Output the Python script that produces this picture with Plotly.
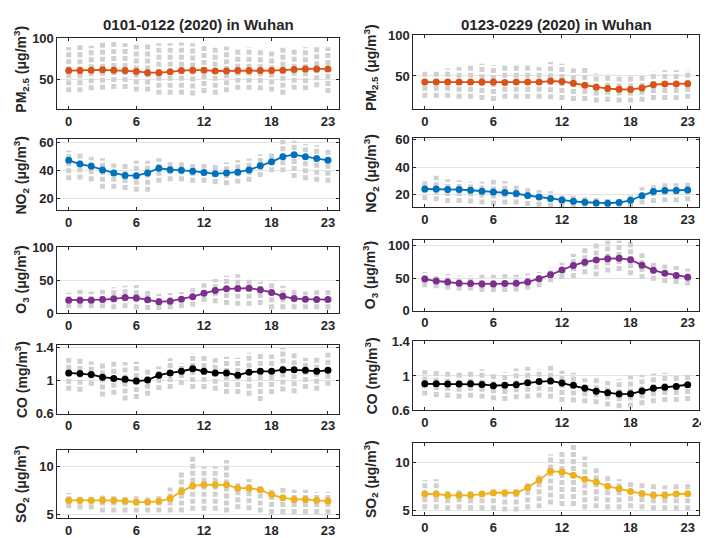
import plotly.graph_objects as go

# ---------------- data ----------------
hours = list(range(24))

# Period 1: 0101-0122 ; Period 2: 0123-0229
pm25_p1 = [60.5,60.5,61,61.5,61,60.5,59.5,58,58,59,60.5,61,61,60,60,60.5,60.5,60.5,60.5,61,62,62.5,62.5,62.5]
pm25_p1_lo = [34,34,36.5,37,38,38,35,35,31,31,31,30,33,31,34,37,37,36.5,35,31,37,36.5,40,33]
pm25_p1_hi = [89,92,91,95,96,94,92,95,94,94,95,94,92,89,90,88,89,86,85,89,88,89,89,89]
pm25_p2 = [42.5,42.5,42.5,42.5,42.5,42.5,42.5,42,42.5,42.5,42.5,43.7,43.3,40.9,38.5,36.1,34.5,33.7,33.3,35.3,39.3,40.1,40.1,40.5]
pm25_p2_lo = [23.4,23.4,23.4,22,22,20.6,19.4,22,22,22,22,21.4,20.6,19.4,19.4,17.5,18.3,17.5,17.5,18.3,20.6,20.6,20.6,22]
pm25_p2_hi = [57,57,59,61,63,65,63,64,64,63,61,67,65,59,60,53,53,49,51,53,55,57,57,57]

no2_p1 = [47,44.3,42.7,40.1,38,36.2,36,38,41.3,40.3,39.9,39.2,38.3,37.3,38,38.5,40.1,43.1,45.9,49.6,51,49.6,48.2,47]
no2_p1_lo = [32.7,33.2,32,26.7,26.7,25.8,24.6,24.6,30.9,32,32,30.9,30.9,30,29.2,30.4,31.6,35,38.5,38.5,34.3,32.7,31.6,30.9]
no2_p1_hi = [54,51.7,49.6,48.4,44.7,44.7,46.6,46.6,48.4,47,46,44.3,44.3,44.3,45.4,47,48.2,51.2,53,61.6,61,58.6,57.7,55.8]
no2_p2 = [24.2,24.2,23.8,23.8,23.3,22.6,22.1,21.6,20.9,19.5,18.4,17.4,16.2,15.3,14.6,14.1,13.9,14.4,16,19.3,22.4,23.1,23.1,23.5]
no2_p2_lo = [16,15.3,14.1,14.1,13.6,12.9,12.2,12.9,12.9,11.8,11.3,10.8,10.8,10.8,10.8,10.8,10.8,10.8,10.8,12.9,14.1,14.6,14.6,15.3]
no2_p2_hi = [30,33.9,31.3,30.6,29.4,29.4,31,30,27,24.7,23.5,22.6,20,19.3,18.4,17.6,16.9,16.9,20,25.4,27,28.7,29.4,28.7]

o3_p1 = [19.8,19.8,19.8,20.8,21.8,23.8,23.3,20.3,17.3,18.3,21.3,25.2,30.2,34.7,37.1,37.6,38.1,35.6,31.7,25.7,22.3,21.3,20.8,20.8]
o3_p1_lo = [7.4,7.4,7.4,7.4,6,7.4,6,5,5,6,7.4,10,17.3,15,12.4,11.4,11.4,12.4,6,6,6,6,6,6]
o3_p1_hi = [31,35.6,33.2,35.6,39.6,42,43,37,29.7,30.7,32.2,38,45.5,52,57,59.4,54.5,48,46,42,37,33.2,35.6,36]
o3_p2 = [48.5,45.5,44,42,41.5,41,41,41.5,42,44,49,55,62.5,69.5,74.5,78,80,80.5,78.5,70,62,57.5,54,51.5]
o3_p2_lo = [36,34.5,32.5,31,31,28.5,28.5,28.5,29.5,32.5,36,43.5,48.5,50,56,52.5,58.5,61,54.5,48.5,46,42.5,41,38.5]
o3_p2_hi = [59.5,56,56,53.5,53.5,55,55,56,55,57,59.5,66,73.5,87.5,97.5,103.5,108,108,106,88.5,73.5,71,68.5,64.5]

co_p1 = [1.09,1.082,1.07,1.039,1.023,1.012,0.992,1.004,1.062,1.09,1.109,1.14,1.109,1.09,1.09,1.062,1.098,1.109,1.109,1.129,1.129,1.121,1.109,1.121]
co_p1_lo = [0.875,0.863,0.934,0.805,0.828,0.758,0.777,0.816,0.883,0.895,0.945,0.895,0.895,0.875,0.836,0.836,0.816,0.75,0.836,0.867,0.844,0.895,0.875,0.934]
co_p1_hi = [1.27,1.266,1.227,1.207,1.227,1.219,1.227,1.129,1.168,1.266,1.207,1.324,1.305,1.266,1.285,1.273,1.332,1.332,1.312,1.39,1.336,1.273,1.285,1.332]
co_p2 = [0.909,0.909,0.906,0.906,0.909,0.902,0.887,0.891,0.898,0.921,0.936,0.943,0.917,0.891,0.857,0.823,0.804,0.789,0.792,0.826,0.857,0.868,0.879,0.898]
co_p2_lo = [0.774,0.755,0.747,0.736,0.747,0.736,0.717,0.709,0.728,0.736,0.747,0.736,0.698,0.691,0.683,0.672,0.645,0.626,0.634,0.66,0.683,0.698,0.698,0.709]
co_p2_hi = [1.068,1.06,1.068,1.057,1.06,1.079,1.023,1.042,1.087,1.106,1.079,1.125,1.06,1.038,0.974,0.974,0.943,0.962,1.004,1.011,1.03,1.038,1.0,1.011]

so2_p1 = [6.42,6.42,6.42,6.45,6.42,6.35,6.25,6.25,6.32,6.62,7.36,7.94,8.04,8.04,8.04,7.7,7.7,7.53,7.03,6.69,6.52,6.52,6.45,6.35]
so2_p1_lo = [5.61,5.5,5.5,5.17,5.17,5.17,5.17,5.17,5.17,5.17,5.17,5.34,5.34,5.34,5.17,5.5,5.4,5.17,5.0,5.0,5.0,5.0,5.0,5.0]
so2_p1_hi = [7.2,6.86,6.86,6.93,6.86,6.76,6.86,6.76,6.86,7.77,9.39,10.98,9.97,9.97,10.64,8.38,8.65,8.11,7.53,7.77,7.53,7.53,7.26,7.3]
so2_p2 = [6.69,6.69,6.55,6.55,6.55,6.69,6.82,6.82,6.82,7.36,8.14,9.05,8.99,8.65,8.24,7.94,7.5,7.23,6.96,6.72,6.55,6.55,6.69,6.72]
so2_p2_lo = [5.1,5.1,5.0,5.1,5.0,5.0,5.0,4.86,4.86,5.1,5.2,5.61,5.44,5.44,5.1,5.2,5.1,5.1,5.2,5.1,5.0,5.0,5.0,5.0]
so2_p2_hi = [8.14,8.24,7.13,7.3,7.03,7.13,7.13,6.96,7.13,7.91,8.75,10.84,11.11,11.96,10.61,9.49,8.65,8.24,7.97,7.87,7.8,7.57,7.8,7.97]

titles = ["0101-0122 (2020) in Wuhan", "0123-0229 (2020) in Wuhan"]
ylabels = ["PM<sub>2.5</sub> (μg/m<sup>3</sup>)", "NO<sub>2</sub> (μg/m<sup>3</sup>)",
           "O<sub>3</sub> (μg/m<sup>3</sup>)", "CO (mg/m<sup>3</sup>)",
           "SO<sub>2</sub> (μg/m<sup>3</sup>)"]
yticks = [[50, 100], [20, 40, 60], [0, 50, 100], [0.6, 1, 1.4], [5, 10]]
yticklabels = [["50", "100"], ["20", "40", "60"], ["0", "50", "100"], ["0.6", "1", "1.4"], ["5", "10"]]
xticks_std = [0, 6, 12, 18, 23]
xticks_co2 = [0, 6, 12, 18, 24]

# ---------------- styling / layout ----------------
W, H = 709, 538
colors = ["#D95319", "#0072BD", "#7E2F8E", "#000000", "#EDB120"]
gray = "#d0d0d0"
axis_col = "#262626"
FONT = "Liberation Sans, Arial, Helvetica, sans-serif"

series = [
    [(pm25_p1, pm25_p1_lo, pm25_p1_hi), (pm25_p2, pm25_p2_lo, pm25_p2_hi)],
    [(no2_p1, no2_p1_lo, no2_p1_hi), (no2_p2, no2_p2_lo, no2_p2_hi)],
    [(o3_p1, o3_p1_lo, o3_p1_hi), (o3_p2, o3_p2_lo, o3_p2_hi)],
    [(co_p1, co_p1_lo, co_p1_hi), (co_p2, co_p2_lo, co_p2_hi)],
    [(so2_p1, so2_p1_lo, so2_p1_hi), (so2_p2, so2_p2_lo, so2_p2_hi)],
]

col_x = [(50, 335), (410, 699)]
row_px = [
    [(24, 96.7), (20.7, 96.7)],
    [(128, 200.7), (126.7, 198)],
    [(238.3, 306.7), (231.7, 304)],
    [(339.3, 410), (335, 406.7)],
    [(447.3, 517.7), (440.7, 514.3)],
]
yranges = [
    [(13.5, 100), (9.5, 100)],
    [(11.4, 61.9), (10.8, 61.1)],
    [(0, 101.5), (0, 108.4)],
    [(0.6, 1.428), (0.6, 1.411)],
    [(4.56, 11.69), (4.51, 11.96)],
]
label_shift = [-5, 0, 0, 0, 0]

fig = go.Figure()
layout = dict(width=W, height=H, margin=dict(l=0, r=0, t=0, b=0),
              paper_bgcolor="white", plot_bgcolor="white", showlegend=False,
              font=dict(family=FONT, size=13, color=axis_col))
annotations = []

idx = 0
for r in range(5):
    for c in range(2):
        idx += 1
        xa = "x" if idx == 1 else f"x{idx}"
        ya = "y" if idx == 1 else f"y{idx}"
        line_vals, lo, hi = series[r][c]
        gx, gy = [], []
        for h, a, b in zip(hours, lo, hi):
            gx += [h, h, None]
            gy += [a, b, None]
        fig.add_trace(go.Scatter(x=gx, y=gy, mode="lines", xaxis=xa, yaxis=ya,
                                 line=dict(color=gray, width=5, dash="5px,2px"),
                                 hoverinfo="skip"))
        fig.add_trace(go.Scatter(x=hours, y=line_vals, mode="lines+markers", xaxis=xa, yaxis=ya,
                                 line=dict(color=colors[r], width=1.8),
                                 marker=dict(color=colors[r], size=7)))
        x0, x1 = col_x[c]
        t, b = row_px[r][c]
        xt = xticks_co2 if (r == 3 and c == 1) else xticks_std
        common = dict(showline=True, linecolor=axis_col, linewidth=1, mirror="ticks",
                      ticks="inside", ticklen=3, tickcolor=axis_col, zeroline=False,
                      tickfont=dict(family=FONT, size=13, color=axis_col, weight="bold"))
        layout["xaxis" if idx == 1 else f"xaxis{idx}"] = dict(
            domain=[x0 / W, x1 / W], range=[-1, 24], anchor=ya,
            tickmode="array", tickvals=xt, ticktext=[str(v) for v in xt],
            ticklabeloverflow="allow", showgrid=False, **common)
        layout["yaxis" if idx == 1 else f"yaxis{idx}"] = dict(
            domain=[1 - b / H, 1 - t / H], range=list(yranges[r][c]), anchor=xa,
            tickmode="array", tickvals=yticks[r], ticktext=yticklabels[r],
            ticklabeloverflow="allow", showgrid=True, gridcolor="#e3e3e3", gridwidth=1, **common)
        annotations.append(dict(text=f"<b>{ylabels[r]}</b>", xref="paper", yref="paper",
                                x=(13 if c == 0 else 367) / W,
                                y=1 - ((t + b) / 2 + label_shift[r]) / H,
                                xanchor="center", yanchor="middle", textangle=-90,
                                showarrow=False, font=dict(family=FONT, size=14, color=axis_col)))

for c in range(2):
    x0, x1 = col_x[c]
    annotations.append(dict(text=f"<b>{titles[c]}</b>", xref="paper", yref="paper",
                            x=(x0 + x1) / 2 / W, y=1 - 10 / H, xanchor="center", yanchor="middle",
                            showarrow=False, font=dict(family=FONT, size=15, color=axis_col)))

layout["annotations"] = annotations
fig.update_layout(**layout)
fig.write_html("out.html")
